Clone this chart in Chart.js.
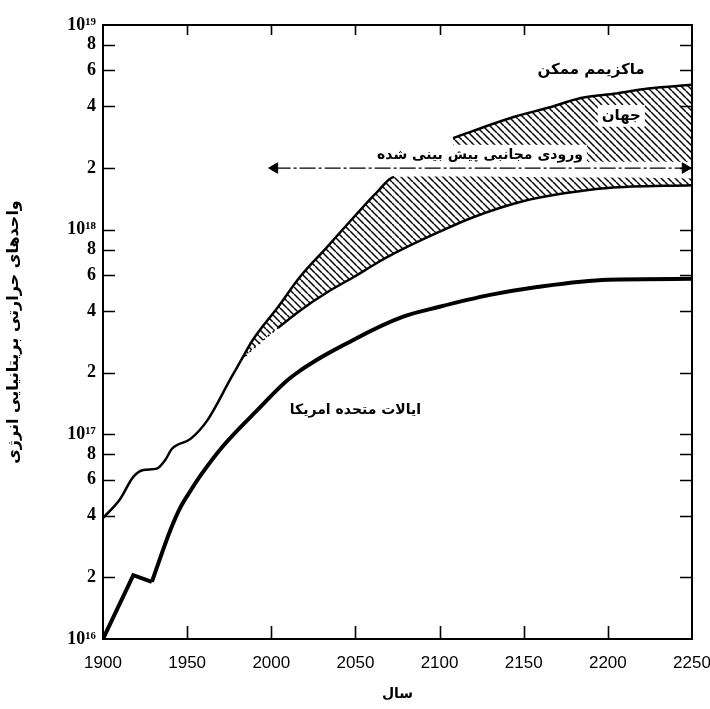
<!DOCTYPE html>
<html>
<head>
<meta charset="utf-8">
<script src="https://cdn.jsdelivr.net/npm/chart.js@4.4.1/dist/chart.umd.min.js"></script>
<style>
  html, body { margin: 0; padding: 0; background: #fff; }
  #energyChart { display: block; }
</style>
</head>
<body>
<canvas id="energyChart" width="710" height="709"></canvas>
<script>
// Energy use (BTU), USA and world, 1900-2250, log scale

const xTicks = [1900, 1950, 2000, 2050, 2100, 2150, 2200, 2250];
const yTicks = [1e16, 2e16, 4e16, 6e16, 8e16, 1e17, 2e17, 4e17, 6e17, 8e17,
                1e18, 2e18, 4e18, 6e18, 8e18, 1e19];
const yTickLabels = ['10¹⁶', '2', '4', '6', '8', '10¹⁷', '2', '4', '6', '8',
                     '10¹⁸', '2', '4', '6', '8', '10¹⁹'];

// United States (early years have sharp corners, later years are smooth)
const usEarlyYears  = [1900, 1918, 1929];
const usEarlyValues = [1.0e16, 2.05e16, 1.9e16];
const usYears  = [1929, 1940, 1946, 1952, 1958, 1971, 1992, 2011, 2049, 2078, 2100, 2130, 2158, 2200, 2250];
const usValues = [1.9e16, 3.4e16, 4.4e16, 5.3e16, 6.3e16, 8.7e16, 1.32e17, 1.88e17,
                  2.9e17, 3.75e17, 4.2e17, 4.8e17, 5.25e17, 5.7e17, 5.75e17];

// World, history up to the split
const worldPastYears  = [1900, 1910, 1918, 1924, 1932, 1937, 1941, 1952, 1962, 1976, 1982];
const worldPastValues = [3.9e16, 4.8e16, 6.2e16, 6.7e16, 6.8e16, 7.5e16, 8.5e16, 9.5e16, 1.17e17, 1.88e17, 2.3e17];

// World, projected band
const bandYears       = [1982, 1989, 2004, 2017, 2033, 2049, 2063, 2073, 2100, 2120, 2150, 2175, 2200, 2250];
const worldHighValues = [2.3e17, 2.89e17, 4.19e17, 5.87e17, 8.2e17, 1.15e18, 1.53e18, 1.81e18,
                         1.82e18, 1.82e18, 1.81e18, 1.8e18, 1.8e18, 1.78e18];
const worldLowValues  = [2.3e17, 2.61e17, 3.31e17, 4.02e17, 4.93e17, 5.87e17, 6.89e17, 7.65e17,
                         9.77e17, 1.15e18, 1.38e18, 1.51e18, 1.6e18, 1.65e18];

// Maximum possible
const maxYears      = [2108, 2120, 2144, 2165, 2184, 2205, 2224, 2250];
const maxValues     = [2.8e18, 3.04e18, 3.55e18, 3.95e18, 4.4e18, 4.63e18, 4.9e18, 5.1e18];
const maxBaseValues = [2.15e18, 2.15e18, 2.15e18, 2.15e18, 2.15e18, 2.15e18, 2.15e18, 2.15e18];

// Predicted asymptotic input arrow
const arrowYears  = [2002, 2246];
const arrowValues = [2e18, 2e18];

const toPoints = (xs, ys) => xs.map((x, i) => ({ x: x, y: ys[i] }));

const persianFont = "'DejaVu Sans', sans-serif";
const serifFont = "'Liberation Serif', 'DejaVu Serif', serif";

function makeHatch() {
    const s = 7;
    const c = document.createElement('canvas');
    c.width = s;
    c.height = s;
    const g = c.getContext('2d');
    g.strokeStyle = '#000';
    g.lineWidth = 1.5;
    for (let k = -1; k <= 1; k++) {
        g.beginPath();
        g.moveTo(0, k * s);
        g.lineTo(s, s + k * s);
        g.stroke();
    }
    return g.createPattern(c, 'repeat');
}
const hatch = makeHatch();

const labels = [
    { text: 'ماکزیمم ممکن', x: 2190, y: 6.0e18, size: 15, box: false },
    { text: 'جهان', x: 2208, y: 3.6e18, size: 15, box: true },
    { text: 'ورودی مجانبی پیش بینی شده', x: 2124, y: 2.32e18, size: 14, box: true },
    { text: 'ایالات متحده امریکا', x: 2050, y: 1.31e17, size: 14, box: false }
];

const framePlugin = {
    id: 'frame',
    afterDatasetsDraw(chart) {
        const ctx = chart.ctx;
        const xs = chart.scales.x, ys = chart.scales.y;
        ctx.save();
        ctx.textAlign = 'center';
        ctx.textBaseline = 'middle';
        labels.forEach(l => {
            const px = xs.getPixelForValue(l.x);
            const py = ys.getPixelForValue(l.y);
            ctx.font = 'bold ' + l.size + 'px ' + persianFont;
            const w = ctx.measureText(l.text).width;
            if (l.box) {
                ctx.fillStyle = '#fff';
                ctx.fillRect(px - w / 2 - 4, py - l.size * 0.72, w + 8, l.size * 1.45);
            }
            ctx.fillStyle = '#000';
            ctx.fillText(l.text, px, py);
        });
        ctx.restore();
    },
    afterDraw(chart) {
        const ctx = chart.ctx;
        const a = chart.chartArea;
        const xs = chart.scales.x, ys = chart.scales.y;
        ctx.save();
        ctx.strokeStyle = '#000';
        ctx.lineWidth = 1.6;
        // inward ticks on all four sides
        xTicks.slice(1, -1).forEach(v => {
            const px = Math.round(xs.getPixelForValue(v)) + 0.5;
            ctx.beginPath();
            ctx.moveTo(px, a.bottom);
            ctx.lineTo(px, a.bottom - 13);
            ctx.moveTo(px, a.top);
            ctx.lineTo(px, a.top + 10);
            ctx.stroke();
        });
        yTicks.slice(1, -1).forEach(v => {
            const py = Math.round(ys.getPixelForValue(v)) + 0.5;
            ctx.beginPath();
            ctx.moveTo(a.left, py);
            ctx.lineTo(a.left + 12, py);
            ctx.moveTo(a.right, py);
            ctx.lineTo(a.right - 12, py);
            ctx.stroke();
        });
        ctx.lineWidth = 2;
        ctx.strokeRect(a.left, a.top, a.right - a.left, a.bottom - a.top);
        ctx.restore();
    }
};

const lineBase = {
    borderColor: '#000',
    borderWidth: 2.5,
    pointRadius: 0,
    cubicInterpolationMode: 'monotone',
    fill: false
};

new Chart(document.getElementById('energyChart'), {
    type: 'line',
    data: {
        datasets: [{
            // world history
            ...lineBase,
            data: toPoints(worldPastYears, worldPastValues)
        }, {
            // world high projection
            ...lineBase,
            data: toPoints(bandYears, worldHighValues),
            segment: {
                borderColor: c => c.p0.parsed.x >= 2073 ? 'rgba(0,0,0,0)' : '#000'
            }
        }, {
            // world low projection, hatched up to the high one
            ...lineBase,
            data: toPoints(bandYears, worldLowValues),
            backgroundColor: hatch,
            fill: { target: '-1', above: hatch, below: hatch },
            segment: {
                borderDash: c => c.p1.parsed.x <= 2004 ? [2, 4] : undefined,
                borderWidth: c => c.p1.parsed.x <= 2004 ? 1.5 : 2.5
            }
        }, {
            // base of maximum band
            ...lineBase,
            data: toPoints(maxYears, maxBaseValues),
            borderWidth: 0,
            borderColor: 'rgba(0,0,0,0)'
        }, {
            // maximum possible
            ...lineBase,
            data: toPoints(maxYears, maxValues),
            backgroundColor: hatch,
            fill: { target: '-1', above: hatch, below: hatch }
        }, {
            // United States, first years
            ...lineBase,
            data: toPoints(usEarlyYears, usEarlyValues),
            borderWidth: 4,
            cubicInterpolationMode: 'default',
            tension: 0
        }, {
            // United States
            ...lineBase,
            data: toPoints(usYears, usValues),
            borderWidth: 4
        }, {
            // arrow
            data: toPoints(arrowYears, arrowValues),
            borderColor: '#000',
            borderWidth: 1.3,
            borderDash: [16, 3, 3, 3],
            pointStyle: 'triangle',
            pointRadius: 6,
            rotation: [-90, 90],
            pointBackgroundColor: '#000',
            pointBorderColor: '#000',
            pointBorderWidth: 1,
            clip: false,
            fill: false
        }]
    },
    options: {
        responsive: false,
        animation: false,
        layout: { padding: { top: 25, right: 18, left: 0, bottom: 0 } },
        plugins: {
            legend: { display: false },
            tooltip: { enabled: false }
        },
        scales: {
            x: {
                type: 'linear',
                min: 1900,
                max: 2250,
                afterBuildTicks: s => { s.ticks = xTicks.map(v => ({ value: v })); },
                afterFit: s => {
                    s.height = 70;
                    s.paddingLeft = 0;
                    s.paddingRight = 0;
                },
                grid: { display: false, drawTicks: false },
                border: { display: false },
                ticks: {
                    padding: 14,
                    color: '#000',
                    font: { family: "'Liberation Sans', sans-serif", size: 17 },
                    callback: v => String(v)
                },
                title: {
                    display: true,
                    text: 'سال',
                    color: '#000',
                    font: { family: persianFont, size: 14, weight: 'bold' },
                    padding: { top: 0, bottom: 6 }
                }
            },
            y: {
                type: 'logarithmic',
                min: 1e16,
                max: 1e19,
                afterBuildTicks: s => { s.ticks = yTicks.map(v => ({ value: v })); },
                afterFit: s => { s.width = 103; },
                grid: { display: false, drawTicks: false },
                border: { display: false },
                ticks: {
                    autoSkip: false,
                    padding: 7,
                    color: '#000',
                    font: { family: serifFont, size: 18, weight: 'bold' },
                    callback: (v, i) => yTickLabels[i]
                },
                title: {
                    display: true,
                    text: 'واحدهای حرارتی بریتانیایی انرژی',
                    color: '#000',
                    font: { family: persianFont, size: 16, weight: 'bold' },
                    padding: { top: 4, bottom: 0 }
                }
            }
        }
    },
    plugins: [framePlugin]
});
</script>
</body>
</html>
